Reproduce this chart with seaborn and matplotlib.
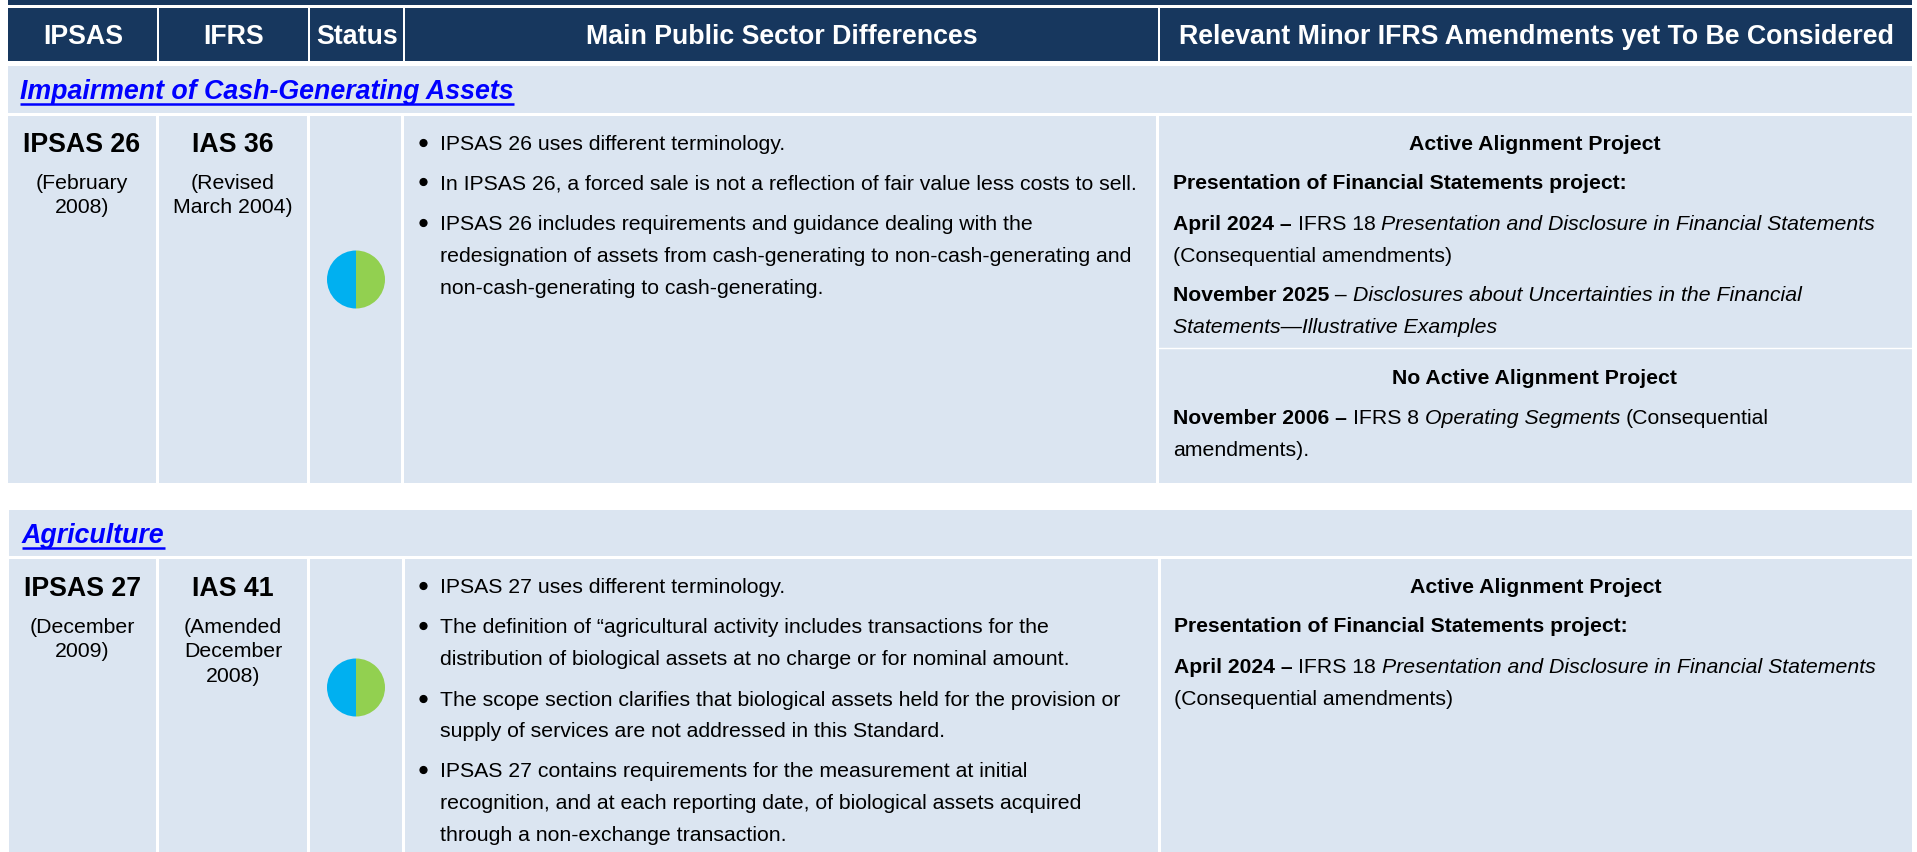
"""IPSAS / IFRS alignment table, drawn on a full-figure pixel axes."""

import matplotlib
matplotlib.use("Agg")
import matplotlib.pyplot as plt
from matplotlib.patches import Rectangle, Circle
import seaborn as sns

sns.set_theme(style="white")
plt.rcParams["font.family"] = ["Liberation Sans", "DejaVu Sans"]

NAVY = "#17375E"
PALE = "#DBE5F1"
LINK = "#0000FF"
status_palette = sns.color_palette(["#00B0F0", "#92D050"])

W, H = 1917, 852
BODY = 15.32
DIFF = 15.345
BOLD_RUN = 15.22
HEAD = 19.3

# ---- table text ----
header_labels = ["IPSAS", "IFRS", "Status", "Main Public Sector Differences",
                 "Relevant Minor IFRS Amendments yet To Be Considered"]
section_titles = ["Impairment of Cash-Generating Assets", "Agriculture"]
ipsas_names = ["IPSAS 26", "IPSAS 27"]
ipsas_dates = [["(February", "2008)"], ["(December", "2009)"]]
ifrs_names = ["IAS 36", "IAS 41"]
ifrs_dates = [["(Revised", "March 2004)"], ["(Amended", "December", "2008)"]]
status_shares = [[50, 50], [50, 50]]

# (line, starts a bullet)
differences_1 = [
    ("IPSAS 26 uses different terminology.", True),
    ("In IPSAS 26, a forced sale is not a reflection of fair value less costs to sell.", True),
    ("IPSAS 26 includes requirements and guidance dealing with the", True),
    ("redesignation of assets from cash-generating to non-cash-generating and", False),
    ("non-cash-generating to cash-generating.", False),
]
differences_2 = [
    ("IPSAS 27 uses different terminology.", True),
    ("The definition of \u201cagricultural activity includes transactions for the", True),
    ("distribution of biological assets at no charge or for nominal amount.", False),
    ("The scope section clarifies that biological assets held for the provision or", True),
    ("supply of services are not addressed in this Standard.", False),
    ("IPSAS 27 contains requirements for the measurement at initial", True),
    ("recognition, and at each reporting date, of biological assets acquired", False),
    ("through a non-exchange transaction.", False),
]

# runs of (text, weight, style); "c" flags a centred heading
amendments_1 = [
    ("c", [("Active Alignment Project", "bold", "normal")]),
    ("l", [("Presentation of Financial Statements project:", "bold", "normal")]),
    ("l", [("April 2024 \u2013 ", "bold", "normal"), ("IFRS 18 ", "normal", "normal"),
           ("Presentation and Disclosure in Financial Statements", "normal", "italic")]),
    ("l", [("(Consequential amendments)", "normal", "normal")]),
    ("l", [("November 2025", "bold", "normal"), (" \u2013 ", "normal", "normal"),
           ("Disclosures about Uncertainties in the Financial", "normal", "italic")]),
    ("l", [("Statements\u2014Illustrative Examples", "normal", "italic")]),
    ("c", [("No Active Alignment Project", "bold", "normal")]),
    ("l", [("November 2006 \u2013 ", "bold", "normal"), ("IFRS 8 ", "normal", "normal"),
           ("Operating Segments ", "normal", "italic"), ("(Consequential", "normal", "normal")]),
    ("l", [("amendments).", "normal", "normal")]),
]
amendments_2 = amendments_1[:4]

# ---- layout, in reference pixels ----
header_cols = [(8, 157), (159, 308), (310, 403), (405, 1158), (1160, 1912)]
row1_cols = [(8, 156), (159, 307), (310, 401), (404, 1156), (1159, 1912)]
row2_cols = [(9, 156), (159, 307), (310, 402), (405, 1158), (1161, 1912)]
diff1_y = [150, 189, 230, 262, 294]
diff2_y = [593, 633, 665, 706, 737, 777, 809, 841]
amend1_y = [150, 189, 230, 262, 301, 333, 384, 424, 456]
amend2_y = [593, 632, 673, 705]


def cell(ax, x0, y0, x1, y1, color=PALE):
    ax.add_patch(Rectangle((x0, y0), x1 - x0, y1 - y0, facecolor=color, edgecolor="none", zorder=1))


def text_width(ax, s, **kw):
    # the bar keeps trailing spaces from being dropped in the measurement
    renderer = ax.figure.canvas.get_renderer()
    t = ax.text(0, 0, s + "|", **kw)
    b = ax.text(0, 0, "|", **kw)
    w = t.get_window_extent(renderer).width - b.get_window_extent(renderer).width
    t.remove()
    b.remove()
    return w


def draw_runs(ax, x, y, runs):
    for s, weight, style in runs:
        size = BOLD_RUN if weight == "bold" else BODY
        kw = dict(fontsize=size, fontweight=weight, fontstyle=style)
        ax.text(x, y, s, color="black", va="baseline", ha="left", zorder=3, **kw)
        x += text_width(ax, s, **kw)


def draw_section_title(ax, x, y, label):
    kw = dict(fontsize=HEAD, fontweight="bold", fontstyle="italic")
    ax.text(x, y, label, color=LINK, va="baseline", ha="left", zorder=3, **kw)
    ax.plot([x, x + text_width(ax, label, **kw)], [y + 5, y + 5], color=LINK, lw=1.8,
            solid_capstyle="butt", zorder=3)


def draw_row(ax, i, cols, name_y, date_ys, pie_y, diffs, diff_ys, amends, amend_ys, text_x, center_x):
    for x0, x1 in cols:
        cell(ax, x0, ROW_TOPS[i], x1, ROW_BOTTOMS[i])
    ax.text(sum(cols[0]) / 2, name_y, ipsas_names[i], fontsize=HEAD, fontweight="bold", ha="center", va="baseline", color="black", zorder=3)
    ax.text(sum(cols[1]) / 2, name_y, ifrs_names[i], fontsize=HEAD, fontweight="bold", ha="center", va="baseline", color="black", zorder=3)
    for label, y in zip(ipsas_dates[i], date_ys):
        ax.text(sum(cols[0]) / 2, y, label, fontsize=BODY, ha="center", va="baseline", color="black", zorder=3)
    for label, y in zip(ifrs_dates[i], date_ys):
        ax.text(sum(cols[1]) / 2, y, label, fontsize=BODY, ha="center", va="baseline", color="black", zorder=3)

    # status pie
    pie_ax = ax.figure.add_axes([327 / W, 1 - (pie_y + 29) / H, 58 / W, 58 / H])
    pie_ax.pie(status_shares[i], colors=status_palette, startangle=90, radius=1,
               wedgeprops=dict(linewidth=0, edgecolor="none"))
    pie_ax.set_xlim(-1, 1)
    pie_ax.set_ylim(-1, 1)
    pie_ax.axis("off")

    # bullet list
    for (line, bullet), y in zip(diffs, diff_ys):
        if bullet:
            ax.add_patch(Circle((423.5, y - 7), 3.4, color="black", zorder=3))
        ax.text(440, y, line, fontsize=DIFF, ha="left", va="baseline", color="black", zorder=3)

    # amendments
    for (kind, runs), y in zip(amends, amend_ys):
        if kind == "c":
            ax.text(center_x, y, runs[0][0], fontsize=BODY, fontweight="bold", ha="center", va="baseline", color="black", zorder=3)
        else:
            draw_runs(ax, text_x, y, runs)


ROW_TOPS = [116, 559]
ROW_BOTTOMS = [483, 860]


def main():
    fig = plt.figure(figsize=(W / 100, H / 100), dpi=100, facecolor="white")
    ax = fig.add_axes([0, 0, 1, 1])
    ax.set_xlim(0, W)
    ax.set_ylim(H, 0)
    ax.axis("off")
    fig.canvas.draw()

    # ---- header ----
    cell(ax, 8, 0, 1912, 5, NAVY)
    for (x0, x1), label in zip(header_cols, header_labels):
        cell(ax, x0, 8, x1, 61, NAVY)
        ax.text((x0 + x1) / 2 + 0.5, 44, label, color="white", fontsize=HEAD, fontweight="bold",
                ha="center", va="baseline", zorder=3)

    # ---- section bands ----
    cell(ax, 8, 66, 1912, 113)
    cell(ax, 9, 510, 1912, 556)
    draw_section_title(ax, 20, 99, section_titles[0])
    draw_section_title(ax, 22, 543, section_titles[1])

    # ---- rows ----
    draw_row(ax, 0, row1_cols, 152, [189, 213], 279.5, differences_1, diff1_y,
             amendments_1, amend1_y, 1173, 1535)
    ax.plot([1159, 1912], [348, 348], color="white", lw=1, zorder=2)
    draw_row(ax, 1, row2_cols, 596, [633, 657, 682], 687.5, differences_2, diff2_y,
             amendments_2, amend2_y, 1174, 1536)

    fig.savefig("out.png", dpi=100)


if __name__ == "__main__":
    main()
